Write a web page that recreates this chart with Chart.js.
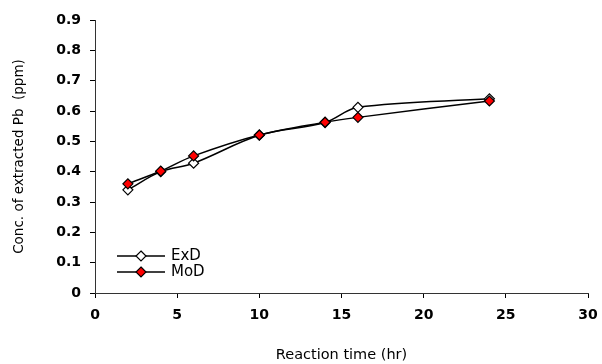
<!DOCTYPE html>
<html>
<head>
<meta charset="utf-8">
<script src="https://cdn.jsdelivr.net/npm/chart.js@4"></script>
<style>
  html, body { margin: 0; padding: 0; background: #fff; }
  #wrap { width: 602px; height: 364px; }
</style>
</head>
<body>
<div id="wrap"><canvas id="chart" width="602" height="364"></canvas></div>
<script>
// reaction time (hr)
const hours = [2, 4, 6, 10, 14, 16, 24];
// Pb concentration (ppm)
const exD = [0.34, 0.40, 0.428, 0.52, 0.562, 0.612, 0.64];
const moD = [0.36, 0.402, 0.452, 0.521, 0.563, 0.579, 0.633];
const xTicks = [0, 5, 10, 15, 20, 25, 30];
const yTicks = [0, 0.1, 0.2, 0.3, 0.4, 0.5, 0.6, 0.7, 0.8, 0.9];

const toPoints = (ys) => hours.map((h, i) => ({ x: h, y: ys[i] }));

// legend drawn inside the plot, line with marker in the middle like the original
const insideLegend = {
    id: 'insideLegend',
    afterDatasetsDraw(chart) {
        const ctx = chart.ctx;
        const x0 = 117, x1 = 165;
        const rows = [256, 272];
        chart.data.datasets.forEach((ds, i) => {
            const y = rows[i];
            const cx = (x0 + x1) / 2;
            const r = 5;
            ctx.save();
            ctx.strokeStyle = '#000';
            ctx.lineWidth = 1.5;
            ctx.beginPath();
            ctx.moveTo(x0, y);
            ctx.lineTo(x1, y);
            ctx.stroke();
            ctx.fillStyle = ds.pointBackgroundColor;
            ctx.lineWidth = 1.2;
            ctx.beginPath();
            ctx.moveTo(cx, y - r);
            ctx.lineTo(cx + r, y);
            ctx.lineTo(cx, y + r);
            ctx.lineTo(cx - r, y);
            ctx.closePath();
            ctx.fill();
            ctx.stroke();
            ctx.fillStyle = '#000';
            ctx.font = '15px "DejaVu Sans", sans-serif';
            ctx.textBaseline = 'middle';
            ctx.fillText(ds.label, 171, y);
            ctx.restore();
        });
    }
};

new Chart(document.getElementById('chart'), {
    type: 'line',
    data: {
        datasets: [{
            label: 'ExD',
            data: toPoints(exD),
            order: 1,
            borderColor: '#000',
            borderWidth: 1.5,
            tension: 0.35,
            pointStyle: 'rectRot',
            pointRadius: 5,
            pointBorderWidth: 1.2,
            pointBackgroundColor: '#fff',
            pointBorderColor: '#000'
        }, {
            label: 'MoD',
            data: toPoints(moD),
            order: 0,
            borderColor: '#000',
            borderWidth: 1.5,
            tension: 0.35,
            pointStyle: 'rectRot',
            pointRadius: 5,
            pointBorderWidth: 1.2,
            pointBackgroundColor: '#ff0000',
            pointBorderColor: '#000'
        }]
    },
    options: {
        responsive: false,
        animation: false,
        layout: { padding: { top: 20, right: 14, left: 0, bottom: 0 } },
        plugins: { legend: { display: false }, tooltip: { enabled: false } },
        scales: {
            x: {
                type: 'linear',
                min: 0, max: 30,
                afterBuildTicks: (s) => { s.ticks = xTicks.map(v => ({ value: v })); },
                afterFit: (s) => { s.height = 71; s.paddingLeft = 0; s.paddingRight = 0; },
                grid: { drawOnChartArea: false, drawTicks: true, tickLength: 5, color: '#000' },
                border: { color: '#333', width: 1 },
                ticks: {
                    color: '#000', padding: 9,
                    font: { family: '"DejaVu Sans"', size: 14, weight: 'bold' }
                },
                title: {
                    display: true, text: 'Reaction time (hr)', color: '#000',
                    font: { family: '"DejaVu Sans"', size: 14.5 },
                    padding: { top: 16, bottom: 0 }
                }
            },
            y: {
                min: 0, max: 0.9,
                afterBuildTicks: (s) => { s.ticks = yTicks.map(v => ({ value: v })); },
                afterFit: (s) => { s.width = 95; s.paddingTop = 0; s.paddingBottom = 0; },
                grid: { drawOnChartArea: false, drawTicks: true, tickLength: 5, color: '#000' },
                border: { color: '#333', width: 1 },
                ticks: {
                    color: '#000', padding: 9,
                    callback: (v) => v === 0 ? '0' : v.toFixed(1),
                    font: { family: '"DejaVu Sans"', size: 14, weight: 'bold' }
                },
                title: {
                    display: true, text: 'Conc. of extracted Pb  (ppm)', color: '#000',
                    font: { family: '"DejaVu Sans"', size: 13.5 },
                    padding: { top: 11, bottom: 0 }
                }
            }
        }
    },
    plugins: [insideLegend]
});
</script>
</body>
</html>
